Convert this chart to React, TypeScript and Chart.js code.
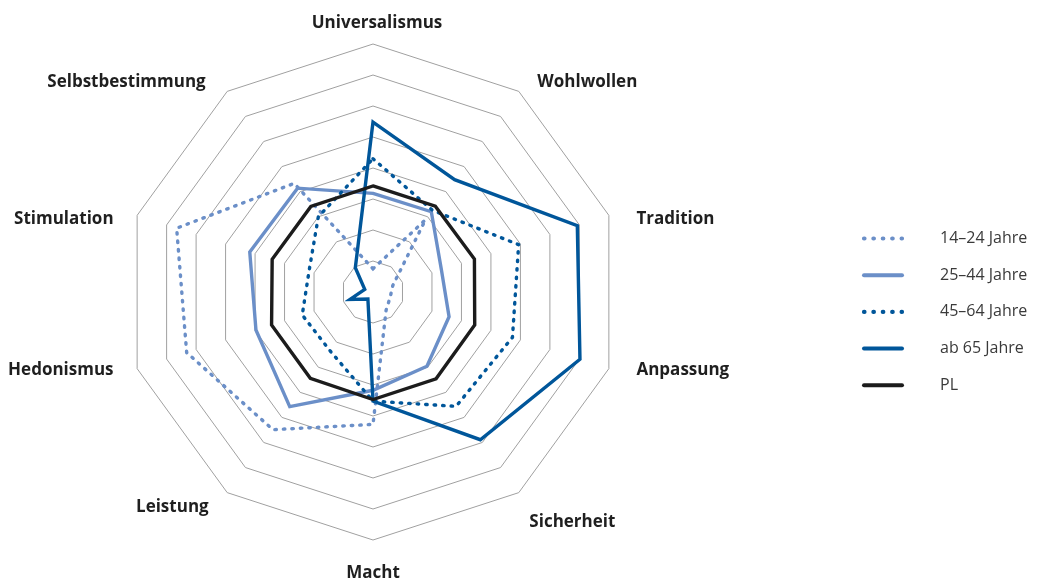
import React, { useEffect, useRef } from 'react';
import { Chart, registerables } from 'chart.js';

Chart.register(...registerables);

// ---------- data ----------
const categories = [
  'Universalismus',
  'Wohlwollen',
  'Tradition',
  'Anpassung',
  'Sicherheit',
  'Macht',
  'Leistung',
  'Hedonismus',
  'Stimulation',
  'Selbstbestimmung',
];

const seriesNames = ['14–24 Jahre', '25–44 Jahre', '45–64 Jahre', 'ab 65 Jahre', 'PL'];

const age14to24 = [0.75, 2.88, 0.67, 0.58, 0.72, 4.27, 5.49, 6.32, 6.66, 4.33];
const age25to44 = [3.18, 3.2, 2.32, 2.58, 2.96, 3.17, 4.57, 3.97, 4.18, 4.14];
const age45to64 = [4.3, 3.26, 4.94, 4.73, 4.56, 3.52, 2.35, 2.4, 2.17, 3.0];
const age65plus = [5.48, 4.48, 6.93, 7.02, 5.89, 3.52, 0.28, 0.78, 0.28, 0.97];
const plValues = [3.42, 3.42, 3.44, 3.45, 3.46, 3.47, 3.44, 3.44, 3.42, 3.41];

const scaleMin = 0;
const scaleMax = 8;
const scaleStep = 1;

// ---------- styles ----------
const LIGHT = '#6b8fc8';
const DARK = '#00569a';
const BLACK = '#1c1c1c';
const GRID = '#a0a0a0';
const DOTS = [1.5, 7];

const LABEL_FONT = 'bold 17px "Open Sans"';
const LEGEND_FONT = '16px "Open Sans"';

// small per-label placement nudges (px) applied on top of the radial placement rule
const LABEL_NUDGE: [number, number][] = [
  [4, 5],
  [4, 3],
  [4, 8],
  [4, -3],
  [-4, 17],
  [0, 7],
  [-4, 2],
  [0, -3],
  [0, 8],
  [-7, 3],
];

const axisLabelPlugin = {
  id: 'axisLabelPlugin',
  afterDraw(chart: any) {
    const scale = chart.scales.r;
    const ctx = chart.ctx;
    const R = scale.drawingArea;
    const xc = scale.xCenter;
    const yc = scale.yCenter;
    ctx.save();
    ctx.font = LABEL_FONT;
    ctx.fillStyle = '#1f1f1f';
    ctx.textBaseline = 'middle';
    (chart.data.labels as string[]).forEach((lab, i) => {
      const a = scale.getIndexAngle(i);
      const s = Math.sin(a);
      const c = Math.cos(a);
      const [nx, ny] = LABEL_NUDGE[i] || [0, 0];
      if (Math.abs(s) < 0.01) {
        ctx.textAlign = 'center';
        const d = R * 1.105;
        ctx.fillText(lab, xc + nx, yc - Math.sign(c) * d + ny);
      } else {
        ctx.textAlign = s > 0 ? 'left' : 'right';
        ctx.fillText(lab, xc + s * R * 1.1 + nx, yc - c * R * 1.06 + ny);
      }
    });
    ctx.restore();
  },
};

const legendPlugin = {
  id: 'sideLegend',
  afterDraw(chart: any) {
    const ctx = chart.ctx;
    const x0 = 854;
    const lineW = 40;
    const textX = 932;
    const y0 = 230.5;
    const step = 36.7;
    ctx.save();
    chart.data.datasets.forEach((ds: any, i: number) => {
      const y = y0 + i * step;
      const dotted = ds.borderDash && ds.borderDash.length;
      ctx.beginPath();
      ctx.strokeStyle = ds.borderColor;
      ctx.lineWidth = dotted ? 4.2 : 4;
      ctx.lineCap = 'round';
      ctx.setLineDash(dotted ? [0.5, 8.9] : []);
      ctx.moveTo(x0 + 2, y);
      ctx.lineTo(x0 + lineW, y);
      ctx.stroke();
      ctx.setLineDash([]);
      ctx.font = LEGEND_FONT;
      ctx.fillStyle = '#3a3a3a';
      ctx.textAlign = 'left';
      ctx.textBaseline = 'middle';
      ctx.fillText(ds.label, textX, y);
    });
    ctx.restore();
  },
};

export default function App() {
  const ref = useRef<HTMLCanvasElement | null>(null);

  useEffect(() => {
    document.documentElement.style.overflow = 'hidden';
    document.body.style.overflow = 'hidden';
    if (!ref.current) return;
    const common = {
      fill: false,
      pointRadius: 0,
      pointHoverRadius: 0,
      borderWidth: 3.4,
      tension: 0,
    };
    const chart = new Chart(ref.current, {
      type: 'radar',
      data: {
        labels: categories,
        datasets: [
          { ...common, label: seriesNames[0], data: age14to24, borderColor: LIGHT, borderDash: DOTS, borderCapStyle: 'round', order: 4 },
          { ...common, label: seriesNames[1], data: age25to44, borderColor: LIGHT, borderDash: [], order: 3 },
          { ...common, label: seriesNames[2], data: age45to64, borderColor: DARK, borderDash: DOTS, borderCapStyle: 'round', order: 2 },
          { ...common, label: seriesNames[3], data: age65plus, borderColor: DARK, borderDash: [], order: 1 },
          { ...common, label: seriesNames[4], data: plValues, borderColor: BLACK, borderDash: [], order: 0 },
        ] as any,
      },
      options: {
        responsive: false,
        animation: false,
        events: [],
        layout: { padding: { left: 0, right: 292, top: 36, bottom: 43 } },
        plugins: {
          legend: { display: false },
          tooltip: { enabled: false },
        },
        scales: {
          r: {
            min: scaleMin,
            max: scaleMax,
            ticks: { display: false, stepSize: scaleStep },
            grid: { color: GRID, lineWidth: 1, circular: false },
            angleLines: { display: false },
            pointLabels: { display: false },
          },
        },
      },
      plugins: [axisLabelPlugin, legendPlugin],
    });
    return () => chart.destroy();
  }, []);

  return (
    <div style={{ width: 1022, height: 575, overflow: 'hidden' }}>
      <canvas ref={ref} width={1022} height={575} style={{ display: 'block' }} />
    </div>
  );
}
